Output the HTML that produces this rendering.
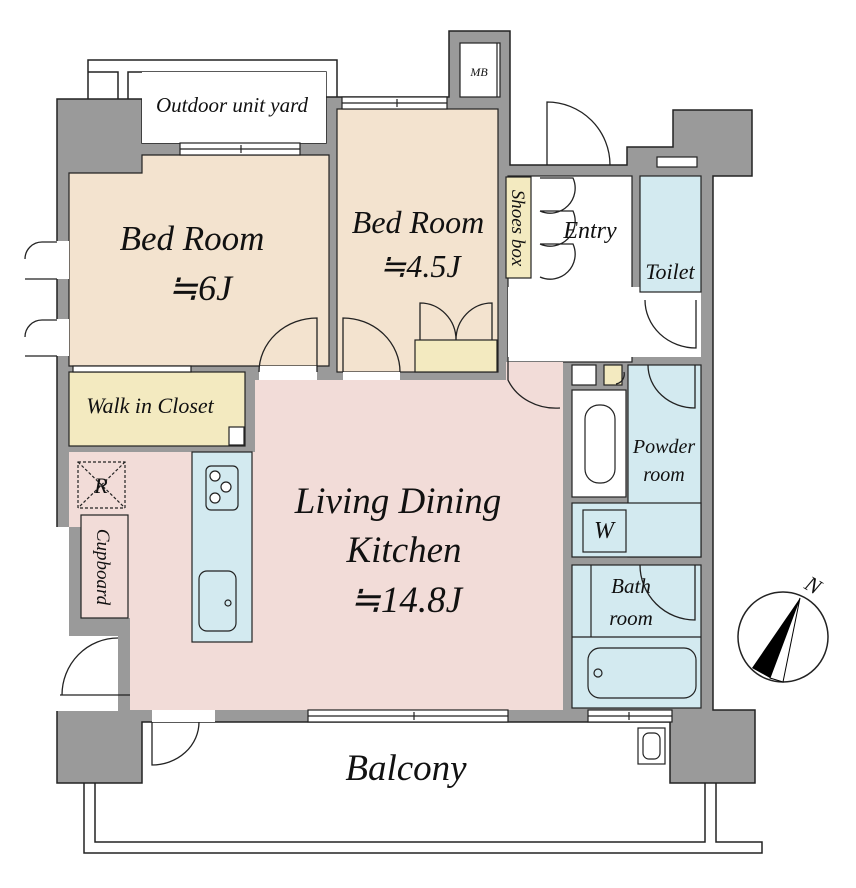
<!DOCTYPE html>
<html><head><meta charset="utf-8"><style>
html,body{margin:0;padding:0;background:#fff;}
svg{display:block;}
text{font-family:"Liberation Serif",serif;font-style:italic;fill:#111;}
</style></head><body>
<svg width="856" height="888" viewBox="0 0 856 888" xmlns="http://www.w3.org/2000/svg">
<g fill="none" stroke="#222" stroke-width="1.5">
<!-- outdoor yard lines -->
<polyline points="88,99 88,60 337,60 337,99" fill="#fff"/>
<polyline points="88,72 118,72 118,99"/>
<polyline points="128,99 128,72 326,72 326,143"/>
<!-- balcony -->
<polyline points="84,783 84,853 762,853 762,842 716,842 716,783"/>
<polyline points="95,783 95,842 705,842 705,783"/>
</g>
<!-- footprint walls -->
<polygon points="57,99 142,99 142,143 326,143 326,97 449,97 449,31 510,31 510,165 627,165 627,147 673,147 673,110 752,110 752,176 713,176 713,710 755,710 755,783 670,783 670,722 142,722 142,783 57,783" fill="#9a9a9a" stroke="#222" stroke-width="1.5"/>
<g stroke="#222" stroke-width="1.2">
<!-- yard interior -->
<rect x="142" y="72" width="184" height="71" fill="#fff" stroke="none"/>
<!-- MB -->
<rect x="460" y="43" width="40" height="54" fill="#fff"/>
<line x1="497" y1="43" x2="497" y2="97"/>
<!-- outside white at left bottom -->
<rect x="56" y="527" width="13" height="110" fill="#fff" stroke="none"/>
<rect x="56" y="636" width="62" height="75" fill="#fff" stroke="none"/>
<!-- bedroom 1 -->
<polygon points="69,173 142,173 142,155 329,155 329,366 69,366" fill="#f3e3cf"/>
<!-- bedroom 2 -->
<rect x="337" y="109" width="161" height="263" fill="#f3e3cf"/>
<!-- entry & hallway -->
<rect x="508" y="176" width="124" height="186" fill="#fff"/>
<rect x="508" y="287" width="193" height="70" fill="#fff" stroke="none"/>
<rect x="640" y="292" width="61" height="65" fill="#fff" stroke="none"/>
<!-- toilet -->
<rect x="640" y="176" width="61" height="116" fill="#d3eaf0"/>
<rect x="657" y="157" width="40" height="10" fill="#fff"/>
<!-- LDK -->
<rect x="255" y="380" width="308" height="330" fill="#f2dcd8" stroke="none"/>
<rect x="69" y="452" width="186" height="178" fill="#f2dcd8" stroke="none"/>
<rect x="130" y="630" width="125" height="80" fill="#f2dcd8" stroke="none"/>
<rect x="506" y="362" width="57" height="18" fill="#f2dcd8" stroke="none"/>
<rect x="69" y="527" width="12" height="103" fill="#9a9a9a" stroke="none"/>
<rect x="69" y="618" width="61" height="12" fill="#9a9a9a" stroke="none"/>
<rect x="118" y="618" width="12" height="92" fill="#9a9a9a" stroke="none"/>
<!-- walk in closet -->
<rect x="69" y="372" width="176" height="74" fill="#f3eac0"/>
<rect x="229" y="427" width="15" height="18" fill="#fff"/>
<rect x="73" y="366" width="118" height="6" fill="#fff"/>
<!-- cupboard -->
<rect x="81" y="515" width="47" height="103" fill="#f2dcd8"/>
<!-- fridge -->
<rect x="78" y="462" width="47" height="46" fill="none" stroke-dasharray="3,2"/>
<line x1="78" y1="462" x2="125" y2="508" stroke-dasharray="3,2"/>
<line x1="125" y1="462" x2="78" y2="508" stroke-dasharray="3,2"/>
<!-- kitchen -->
<rect x="192" y="452" width="60" height="190" fill="#d3eaf0"/>
<rect x="206" y="466" width="32" height="44" rx="5" fill="#d3eaf0"/>
<circle cx="215" cy="476" r="5" fill="#fff"/><circle cx="226" cy="487" r="5" fill="#fff"/><circle cx="215" cy="498" r="5" fill="#fff"/>
<rect x="199" y="571" width="37" height="60" rx="8" fill="#d3eaf0"/>
<circle cx="228" cy="603" r="3" fill="none"/>
<!-- bath block -->
<rect x="572" y="365" width="24" height="20" fill="#fff"/>
<rect x="604" y="365" width="18" height="20" fill="#f3eac0"/>
<rect x="628" y="365" width="73" height="192" fill="#d3eaf0"/>
<rect x="572" y="503" width="129" height="54" fill="#d3eaf0"/>
<rect x="572" y="390" width="54" height="107" fill="#fff"/>
<rect x="585" y="405" width="30" height="78" rx="14" fill="#fff"/>
<rect x="583" y="510" width="43" height="42" fill="#d3eaf0"/>
<rect x="572" y="565" width="129" height="143" fill="#d3eaf0"/>
<line x1="591" y1="565" x2="591" y2="637"/>
<line x1="572" y1="637" x2="701" y2="637"/>
<rect x="588" y="648" width="108" height="50" rx="12" fill="#d3eaf0"/>
<circle cx="598" cy="673" r="4" fill="none"/>
<!-- windows -->
<rect x="342" y="97" width="105" height="12" fill="#fff"/><line x1="342" y1="103" x2="447" y2="103"/><line x1="397" y1="99" x2="397" y2="107"/>
<rect x="180" y="143" width="120" height="12" fill="#fff"/><line x1="180" y1="149" x2="300" y2="149"/><line x1="241" y1="145" x2="241" y2="153"/>
<rect x="308" y="710" width="200" height="12" fill="#fff"/><line x1="308" y1="716" x2="508" y2="716"/><line x1="414" y1="712" x2="414" y2="720"/>
<rect x="588" y="710" width="84" height="12" fill="#fff"/><line x1="588" y1="716" x2="672" y2="716"/><line x1="629" y1="712" x2="629" y2="720"/>
<rect x="152" y="710" width="63" height="12" fill="#fff" stroke="none"/>
<rect x="56" y="241" width="13" height="38" fill="#fff" stroke="none"/>
<rect x="56" y="319" width="13" height="37" fill="#fff" stroke="none"/>
<rect x="259" y="366" width="58" height="14" fill="#fff" stroke="none"/>
<rect x="343" y="372" width="57" height="8" fill="#fff" stroke="none"/>
<!-- bedroom2 closet -->
<rect x="415" y="340" width="82" height="32" fill="#f3eac0"/>
<!-- shoes box -->
<rect x="506" y="177" width="25" height="101" fill="#f3eac0"/>
<!-- AC unit -->
<rect x="638" y="728" width="27" height="36" fill="#fff"/>
<rect x="643" y="733" width="17" height="26" rx="6" fill="#fff"/>
</g>
<!-- doors -->
<g fill="none" stroke="#222" stroke-width="1.3">
<path d="M317,372 V318 A58,54 0 0 0 259,372"/>
<path d="M343,372 V318 A57,54 0 0 1 400,372"/>
<path d="M420,340 V303 A36,37 0 0 1 456,340 M492,340 V303 A36,37 0 0 0 456,340"/>
<path d="M547,165 V102 A63,63 0 0 1 610,165"/>
<path d="M540,178 H573 A25,25 0 0 1 540,211 M540,211 H573 A25,25 0 0 1 540,244 M540,244 H573 A25,25 0 0 1 540,277"/>
<path d="M696,300 V348 A51,48 0 0 1 645,300"/>
<path d="M508,362 V380 A52,46 0 0 0 560,408"/>
<path d="M695,365 V408 A47,43 0 0 1 648,365"/>
<path d="M624,372 A10,10 0 0 1 616,384"/>
<path d="M695,565 V620 A55,55 0 0 1 640,565"/>
<path d="M152,722 V765 A47,43 0 0 0 199,722"/>
<path d="M118,638 A56,57 0 0 0 62,695 M60,695 H130"/>
<path d="M57,242 H42 A17,17 0 0 0 25,259 M57,279 H25"/>
<path d="M57,320 H42 A17,17 0 0 0 25,337 M57,356 H25"/>
</g>
<!-- compass -->
<ellipse cx="783" cy="637" rx="45" ry="45" fill="#fff" stroke="#222" stroke-width="1.5"/>
<polygon points="800,598 752,668 770,678" fill="#000"/>
<polygon points="800,598 770,678 783,682" fill="#fff" stroke="#000"/>
<text x="806" y="593" font-size="22" transform="rotate(30 814 585)">N</text>
<!-- labels -->
<text x="192" y="250" font-size="35" text-anchor="middle">Bed Room</text>
<text x="200" y="300" font-size="36" text-anchor="middle">≒6J</text>
<text x="418" y="233" font-size="32" text-anchor="middle">Bed Room</text>
<text x="420" y="277" font-size="32" text-anchor="middle">≒4.5J</text>
<text x="232" y="112" font-size="21" text-anchor="middle">Outdoor unit yard</text>
<text x="479" y="76" font-size="12" text-anchor="middle">MB</text>
<text x="150" y="413" font-size="22" text-anchor="middle">Walk in Closet</text>
<text x="590" y="238" font-size="24" text-anchor="middle">Entry</text>
<text x="670" y="279" font-size="22" text-anchor="middle">Toilet</text>
<text x="664" y="453" font-size="20" text-anchor="middle">Powder</text>
<text x="664" y="481" font-size="20" text-anchor="middle">room</text>
<text x="604" y="538" font-size="24" text-anchor="middle">W</text>
<text x="631" y="593" font-size="21" text-anchor="middle">Bath</text>
<text x="631" y="625" font-size="21" text-anchor="middle">room</text>
<text x="398" y="513" font-size="37" text-anchor="middle">Living Dining</text>
<text x="404" y="562" font-size="37" text-anchor="middle">Kitchen</text>
<text x="406" y="612" font-size="37" text-anchor="middle">≒14.8J</text>
<text x="406" y="780" font-size="37" text-anchor="middle">Balcony</text>
<text x="101" y="493" font-size="22" text-anchor="middle">R</text>
<text transform="translate(512,228) rotate(90)" font-size="19" text-anchor="middle">Shoes box</text>
<text transform="translate(97,567) rotate(90)" font-size="19" text-anchor="middle">Cupboard</text>
</svg>
</body></html>
